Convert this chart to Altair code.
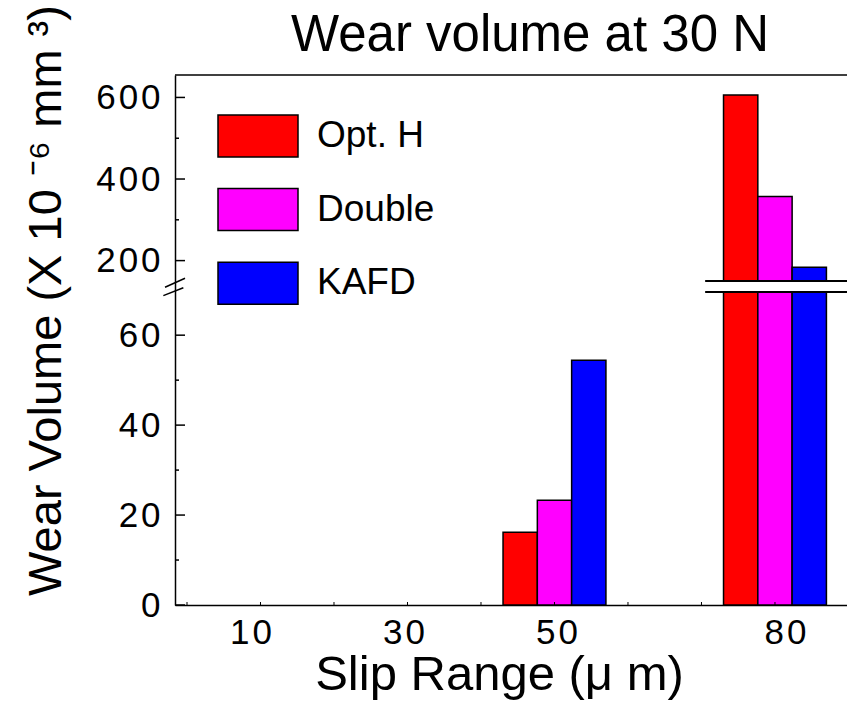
import altair as alt
import pandas as pd

FONT = "Liberation Sans"

# ---- data ----
slip_range = [10, 30, 50, 80]
series = ["Opt. H", "Double", "KAFD"]
opt_h = [None, None, 16.2, 606]
double = [None, None, 23.3, 357]
kafd = [None, None, 54.4, 184]
colors = ["#FF0000", "#FF00FF", "#0000FF"]

x_label_values = [10, 30, 50, 80]
x_minor_ticks = [0, 10, 20, 30, 40, 50, 60, 70, 80]
y_label_values = [0, 20, 40, 60, 200, 400, 600]
y_major_ticks = [0, 20, 40, 60, 200, 400, 600]
y_minor_ticks = [10, 30, 50, 300, 500]

# broken axis: lower part 0..69.6, upper part 150..655
y_break_low = 69.6
y_break_high = 150
y_top = 655
x_min, x_max = -1.633, 89.8

# break decoration, in data units
gap_x = [70.5, 89.8]
slash_x0 = [-2.99, -3.22]
slash_y0 = [103.9, 68.8]
slash_x1 = [-0.27, -0.50]
slash_y1 = [156.6, 101.0]

chart_title = "Wear volume at 30 N"
x_title = "Slip Range (\u03bc m)"
y_title = "Wear Volume (X 10 \u207b\u2076 mm \u00b3)"

W, H = 672, 530
BAR_W = 14.0 / 3  # slip units per bar

rows = []
for vals, name in zip([opt_h, double, kafd], series):
    k = series.index(name)
    for s, v in zip(slip_range, vals):
        if v is None:
            continue
        x0 = s - 1.5 * BAR_W + k * BAR_W
        rows.append({"slip": s, "series": name, "value": v, "x0": x0, "x1": x0 + BAR_W})
df = pd.DataFrame(rows)

# slightly wider digit spacing, as in the original tick labels
spaced = "join(split(datum.label, ''), '\u200a')"

xs = alt.Scale(domain=[x_min, x_max], nice=False, zero=False)
ys = alt.Scale(domain=[0, y_break_low, y_break_high, y_top],
               range=[H, 217, 206, 0], nice=False, zero=False)

x_axis = alt.Axis(
    values=x_label_values, ticks=False, grid=False, domain=True,
    domainColor="black", domainWidth=1.5,
    labelFont=FONT, labelFontSize=35, labelColor="black", labelPadding=10,
    labelExpr=spaced,
    labelOffset={"condition": [
        {"test": "datum.value == 10", "value": -10},
        {"test": "datum.value == 30", "value": -4},
        {"test": "datum.value == 80", "value": 10}], "value": 2},
    labelFlush=False, labelOverlap=False, format="d",
    title=x_title, titleFont=FONT, titleFontSize=49, titleFontWeight="normal",
    titleColor="black", titleX=324, titleY=84, titleAlign="center",
    titleBaseline="alphabetic", titleAngle=0,
)
y_axis = alt.Axis(
    values=y_label_values, ticks=False, grid=False, domain=True,
    domainColor="black", domainWidth=1.5,
    labelFont=FONT, labelFontSize=35, labelColor="black", labelPadding=15,
    labelExpr=spaced,
    labelBaseline="middle", labelFlush=False, labelOverlap=False, format="d",
    title=y_title, titleFont=FONT, titleFontSize=47, titleFontWeight="normal",
    titleColor="black", titleAngle=270, titleX=-115, titleY=225,
    titleAlign="center", titleBaseline="alphabetic",
)

legend = alt.Legend(
    orient="none", legendX=42, legendY=20, title=None, padding=0,
    symbolType="M-1,-0.525H1V0.525H-1Z", symbolSize=6400,
    symbolStrokeColor="black", symbolStrokeWidth=1.5, symbolOpacity=1,
    labelFont=FONT, labelFontSize=37, labelColor="black", labelOffset=18,
    rowPadding=8.6,
)

bars = alt.Chart(df).mark_bar(stroke="black", strokeWidth=1.5, opacity=1).encode(
    x=alt.X("x0:Q", scale=xs, axis=x_axis),
    x2="x1:Q",
    y=alt.Y("value:Q", scale=ys, axis=y_axis),
    y2=alt.datum(0),
    color=alt.Color("series:N", scale=alt.Scale(domain=series, range=colors),
                    legend=legend),
)

gap_df = pd.DataFrame({"x0": [gap_x[0]], "x1": [gap_x[1]],
                       "y0": [y_break_low], "y1": [y_break_high]})
gap = alt.Chart(gap_df).mark_rect(color="white", opacity=1).encode(
    x=alt.X("x0:Q", scale=xs, axis=None), x2="x1:Q",
    y=alt.Y("y0:Q", scale=ys, axis=None), y2="y1:Q",
)

bl_df = pd.DataFrame({"x0": [gap_x[0], gap_x[0]], "x1": [gap_x[1], gap_x[1]],
                      "y": [y_break_high, y_break_low]})
break_lines = alt.Chart(bl_df).mark_rule(color="black", strokeWidth=2).encode(
    x=alt.X("x0:Q", scale=xs, axis=None), x2="x1:Q",
    y=alt.Y("y:Q", scale=ys, axis=None),
)

sl_df = pd.DataFrame({"x0": slash_x0, "y0": slash_y0, "x1": slash_x1, "y1": slash_y1})
slashes = alt.Chart(sl_df).mark_rule(color="black", strokeWidth=1.5).encode(
    x=alt.X("x0:Q", scale=xs, axis=None), x2="x1:Q",
    y=alt.Y("y0:Q", scale=ys, axis=None), y2="y1:Q",
)

ymaj = alt.Chart(pd.DataFrame({"v": y_major_ticks})).mark_rule(
    color="black", strokeWidth=1.5).encode(
    y=alt.Y("v:Q", scale=ys, axis=None), x=alt.value(0), x2=alt.value(10))
ymin = alt.Chart(pd.DataFrame({"v": y_minor_ticks})).mark_rule(
    color="black", strokeWidth=1.5).encode(
    y=alt.Y("v:Q", scale=ys, axis=None), x=alt.value(0), x2=alt.value(4))
xt = alt.Chart(pd.DataFrame({"v": x_minor_ticks})).mark_rule(
    color="black", strokeWidth=1).encode(
    x=alt.X("v:Q", scale=xs, axis=None), y=alt.value(H), y2=alt.value(H - 3))

frame = alt.Chart(pd.DataFrame({"a": [0]})).mark_rule(
    color="black", strokeWidth=1.5).encode(
    x=alt.value(0), x2=alt.value(W), y=alt.value(0))

title_mark = alt.Chart(pd.DataFrame({"t": [chart_title]})).mark_text(
    font=FONT, fontSize=51, color="black", align="center",
    baseline="alphabetic").encode(text="t:N", x=alt.value(355), y=alt.value(-24))

chart = alt.layer(
    bars, gap, break_lines, slashes, ymaj, ymin, xt, frame, title_mark
).resolve_axis(
    x="independent", y="independent"
).properties(
    width=W, height=H,
    autosize=alt.AutoSizeParams(type="none"),
    padding={"left": 167, "top": 67, "right": 0, "bottom": 103},
).configure_view(stroke=None)

chart.save("out.html", embed_options={"renderer": "svg", "actions": False})
